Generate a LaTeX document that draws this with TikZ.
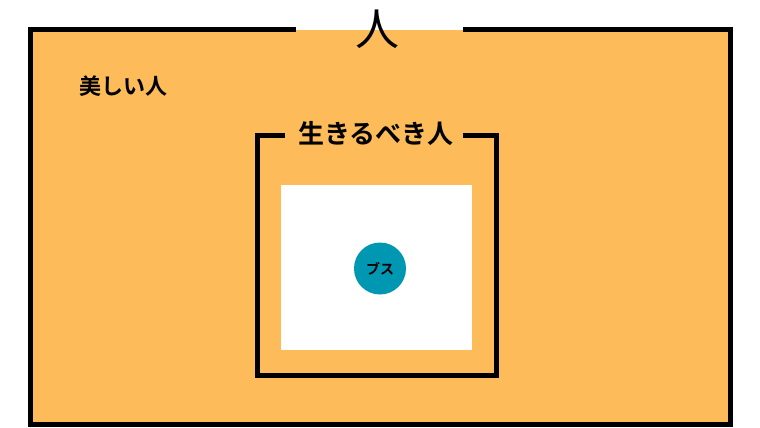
\documentclass[tikz,border=0pt]{standalone}
\usepackage{fontspec}
\newfontfamily\cjk{Noto Sans CJK JP}[BoldFont={Noto Sans CJK JP Bold}]
\definecolor{orangefill}{RGB}{253,188,89}
\definecolor{tealc}{RGB}{0,151,178}
\begin{document}
\begin{tikzpicture}[x=1pt,y=-1pt,
  frame/.style={line width=5pt,line cap=rect,line join=miter},
  lbl/.style={inner sep=0pt,font=\cjk\bfseries},
]
\useasboundingbox (0,0) rectangle (760,428);
\fill[orangefill] (30,30) rectangle (730.5,424.5);
\draw[frame] (293.5,30) -- (30,30) -- (30,424.5) -- (730.5,424.5) -- (730.5,30) -- (465.5,30);
\node[inner sep=0pt,font=\cjk\fontsize{44}{44}\selectfont] (hito) at (377,29) {人};
\node[lbl,font=\cjk\bfseries\fontsize{22}{22}\selectfont] (utsukushii) at (123,86) {美しい人};
\draw[frame] (282.5,135.5) -- (257.5,135.5) -- (257.5,375.5) -- (496,375.5) -- (496,135.5) -- (465.5,135.5);
\node[lbl,font=\cjk\bfseries\fontsize{26}{26}\selectfont] (ikiru) at (376,134) {生きるべき人};
\fill[white] (281,185) rectangle (472,350);
\node[circle,fill=tealc,minimum size=52pt,inner sep=0pt,font=\cjk\bfseries\fontsize{14}{14}\selectfont] (busu) at (380,268.5) {ブス};
\end{tikzpicture}
\end{document}
